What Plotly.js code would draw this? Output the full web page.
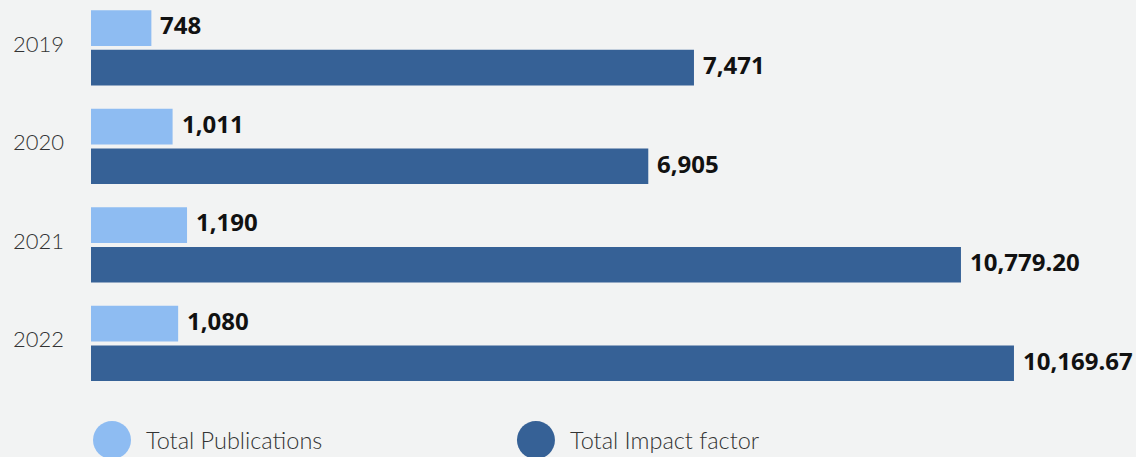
<!DOCTYPE html>
<html>
<head>
<meta charset="utf-8">
<script src="https://cdn.plot.ly/plotly-3.0.1.min.js"></script>
<style>
  html, body { margin: 0; padding: 0; background: #f2f3f3; }
  #chart { width: 1136px; height: 457px; }
</style>
</head>
<body>
<div id="chart"></div>
<script>
// ---- data ----
const years = ["2019", "2020", "2021", "2022"];
const publications = [748, 1011, 1190, 1080];
const impactFactor = [7471, 6905, 10779.2, 11436];
const publicationLabels = ["748", "1,011", "1,190", "1,080"];
const impactLabels = ["7,471", "6,905", "10,779.20", "10,169.67"];
const seriesNames = ["Total Publications", "Total Impact factor"];

const lightBlue = "#8ebcf2";
const darkBlue = "#366196";
const bg = "#f2f3f3";

const traces = [
  { type: "bar", orientation: "h", name: seriesNames[0], y: years, x: publications,
    marker: { color: lightBlue }, hoverinfo: "skip" },
  { type: "bar", orientation: "h", name: seriesNames[1], y: years, x: impactFactor,
    marker: { color: darkBlue }, hoverinfo: "skip" }
];

const labelFont = { family: "Noto Sans, sans-serif", size: 24, color: "#111", weight: 700 };
const annotations = [];
years.forEach((yr, i) => {
  // y given as category index (numeric-looking category names would be read as indexes)
  annotations.push({ x: publications[i], y: i, xref: "x", yref: "y", text: publicationLabels[i],
    showarrow: false, xanchor: "left", yanchor: "middle", xshift: 7, yshift: 23, font: labelFont });
  annotations.push({ x: impactFactor[i], y: i, xref: "x", yref: "y", text: impactLabels[i],
    showarrow: false, xanchor: "left", yanchor: "middle", xshift: 7, yshift: -17, font: labelFont });
});

// custom legend (large circles)
const legFont = { family: "Lato, sans-serif", size: 23.5, color: "#333", weight: 300 };
const legendItems = [
  { cx: 0.0201, tx: 0.0507, color: lightBlue, text: seriesNames[0] },
  { cx: 0.4258, tx: 0.4565, color: darkBlue, text: seriesNames[1] }
];
const legY = -0.1168;
const shapes = [];
legendItems.forEach(it => {
  shapes.push({ type: "circle", xref: "paper", yref: "paper", xsizemode: "pixel", ysizemode: "pixel",
    xanchor: it.cx, yanchor: legY, x0: -19, x1: 19, y0: -19, y1: 19,
    fillcolor: it.color, line: { width: 0 } });
  annotations.push({ x: it.tx, y: legY, xref: "paper", yref: "paper", text: it.text, showarrow: false,
    xanchor: "left", yanchor: "middle", font: legFont });
});

const layout = {
  width: 1136, height: 457,
  margin: { l: 91, r: 0, t: 0, b: 63 },
  paper_bgcolor: bg, plot_bgcolor: bg,
  barmode: "group", bargap: 0.196, bargroupgap: 0.1,
  showlegend: false,
  xaxis: { range: [0, 12948], showgrid: false, zeroline: false, showticklabels: false, showline: false, fixedrange: true },
  yaxis: { type: "category", range: [3.513, -0.486], showgrid: false, zeroline: false, showline: false,
    ticks: "", ticklabelstandoff: 26, ticklabelshift: 4,
    tickfont: { family: "Lato, sans-serif", size: 22, color: "#333", weight: 300 }, fixedrange: true },
  annotations: annotations,
  shapes: shapes
};

Plotly.newPlot("chart", traces, layout, { displayModeBar: false, staticPlot: true });
</script>
</body>
</html>
